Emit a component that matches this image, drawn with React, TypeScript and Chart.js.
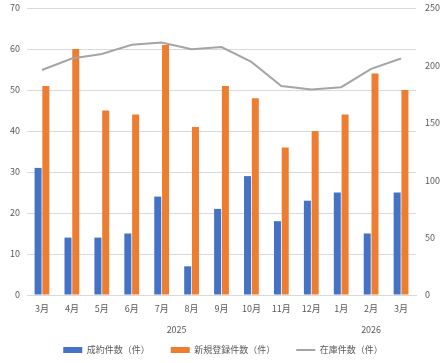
import React, { useEffect, useRef } from 'react';
import { Chart, registerables } from 'chart.js';

Chart.register(...registerables);

const categories = ['3月', '4月', '5月', '6月', '7月', '8月', '9月', '10月', '11月', '12月', '1月', '2月', '3月'];
const contracts = [31, 14, 14, 15, 24, 7, 21, 29, 18, 23, 25, 15, 25];
const newListings = [51, 60, 45, 44, 61, 41, 51, 48, 36, 40, 44, 54, 50];
const inventory = [196, 206, 210, 218, 220, 214, 216, 203, 182, 179, 181, 197, 206];
const yearLabels = ['2025', '2026'];
const yearStart = [0, 10];
const yearEnd = [9, 12];
const seriesNames = ['成約件数（件）', '新規登録件数（件）', '在庫件数（件）'];

const FONT = '"Noto Sans CJK JP", "Noto Sans", sans-serif';
const TEXT = '#595959';

const yearPlugin = {
  id: 'yearGroups',
  afterDraw(chart: any) {
    const x = chart.scales.x;
    const ctx = chart.ctx;
    ctx.save();
    ctx.font = `9px ${FONT}`;
    ctx.fillStyle = TEXT;
    ctx.textAlign = 'center';
    ctx.textBaseline = 'middle';
    const y = x.top + 35;
    yearLabels.forEach((lab, i) => {
      const cx = (x.getPixelForValue(yearStart[i]) + x.getPixelForValue(yearEnd[i])) / 2;
      ctx.fillText(lab, cx, y);
    });
    ctx.restore();
  },
};

export default function App() {
  const ref = useRef<HTMLCanvasElement>(null);
  useEffect(() => {
    if (!ref.current) return;
    const chart = new Chart(ref.current, {
      type: 'bar',
      data: {
        labels: categories,
        datasets: [
          {
            type: 'bar',
            label: seriesNames[0],
            data: contracts,
            backgroundColor: '#4472c4',
            borderWidth: 0,
            yAxisID: 'y',
            order: 1,
            barPercentage: 0.9,
            categoryPercentage: 0.52,
          },
          {
            type: 'bar',
            label: seriesNames[1],
            data: newListings,
            backgroundColor: '#ed7d31',
            borderWidth: 0,
            yAxisID: 'y',
            order: 1,
            barPercentage: 0.9,
            categoryPercentage: 0.52,
          },
          {
            type: 'line',
            label: seriesNames[2],
            data: inventory,
            borderColor: '#a5a5a5',
            backgroundColor: '#a5a5a5',
            borderWidth: 2,
            pointRadius: 0,
            tension: 0,
            yAxisID: 'y1',
            order: 0,
          } as any,
        ],
      },
      plugins: [yearPlugin],
      options: {
        animation: false,
        responsive: true,
        maintainAspectRatio: false,
        layout: { padding: { top: 8, left: 0, right: 0, bottom: -1.5 } },
        plugins: {
          tooltip: { enabled: false },
          legend: {
            position: 'bottom',
            labels: {
              font: { family: FONT, size: 9 },
              color: TEXT,
              usePointStyle: true,
              pointStyleWidth: 19,
              boxHeight: 6,
              padding: 21,
              sort: (a: any, b: any) => a.datasetIndex - b.datasetIndex,
              generateLabels: (chart: any) =>
                chart.data.datasets.map((ds: any, i: number) => ({
                  text: ds.label,
                  datasetIndex: i,
                  fillStyle: ds.type === 'line' ? ds.borderColor : ds.backgroundColor,
                  strokeStyle: ds.type === 'line' ? ds.borderColor : ds.backgroundColor,
                  lineWidth: ds.type === 'line' ? 2 : 0,
                  pointStyle: ds.type === 'line' ? 'line' : 'rect',
                  fontColor: TEXT,
                  hidden: false,
                })),
            },
          },
        },
        scales: {
          x: {
            grid: { display: false, drawTicks: false },
            border: { color: '#d9d9d9' },
            ticks: { font: { family: FONT, size: 9 }, color: TEXT, padding: 8, maxRotation: 0, autoSkip: false },
            afterFit: (scale: any) => {
              scale.height = 29.5;
            },
          } as any,
          y: {
            position: 'left',
            min: 0,
            max: 70,
            ticks: { stepSize: 10, font: { family: FONT, size: 9 }, color: TEXT, padding: 7 },
            grid: { color: '#d9d9d9', drawTicks: false },
            border: { display: false },
            afterFit: (scale: any) => {
              scale.width = 27;
              scale.paddingTop = 0;
              scale.paddingBottom = 0;
            },
          } as any,
          y1: {
            position: 'right',
            min: 0,
            max: 250,
            ticks: { stepSize: 50, font: { family: FONT, size: 9 }, color: TEXT, padding: 9 },
            grid: { display: false, drawTicks: false },
            border: { display: false },
            afterFit: (scale: any) => {
              scale.width = 30;
              scale.paddingTop = 0;
              scale.paddingBottom = 0;
            },
          } as any,
        },
      },
    });
    return () => chart.destroy();
  }, []);
  return (
    <div style={{ position: 'fixed', left: 0, top: 0, width: 446, height: 363, background: '#fff' }}>
      <canvas ref={ref} />
    </div>
  );
}
